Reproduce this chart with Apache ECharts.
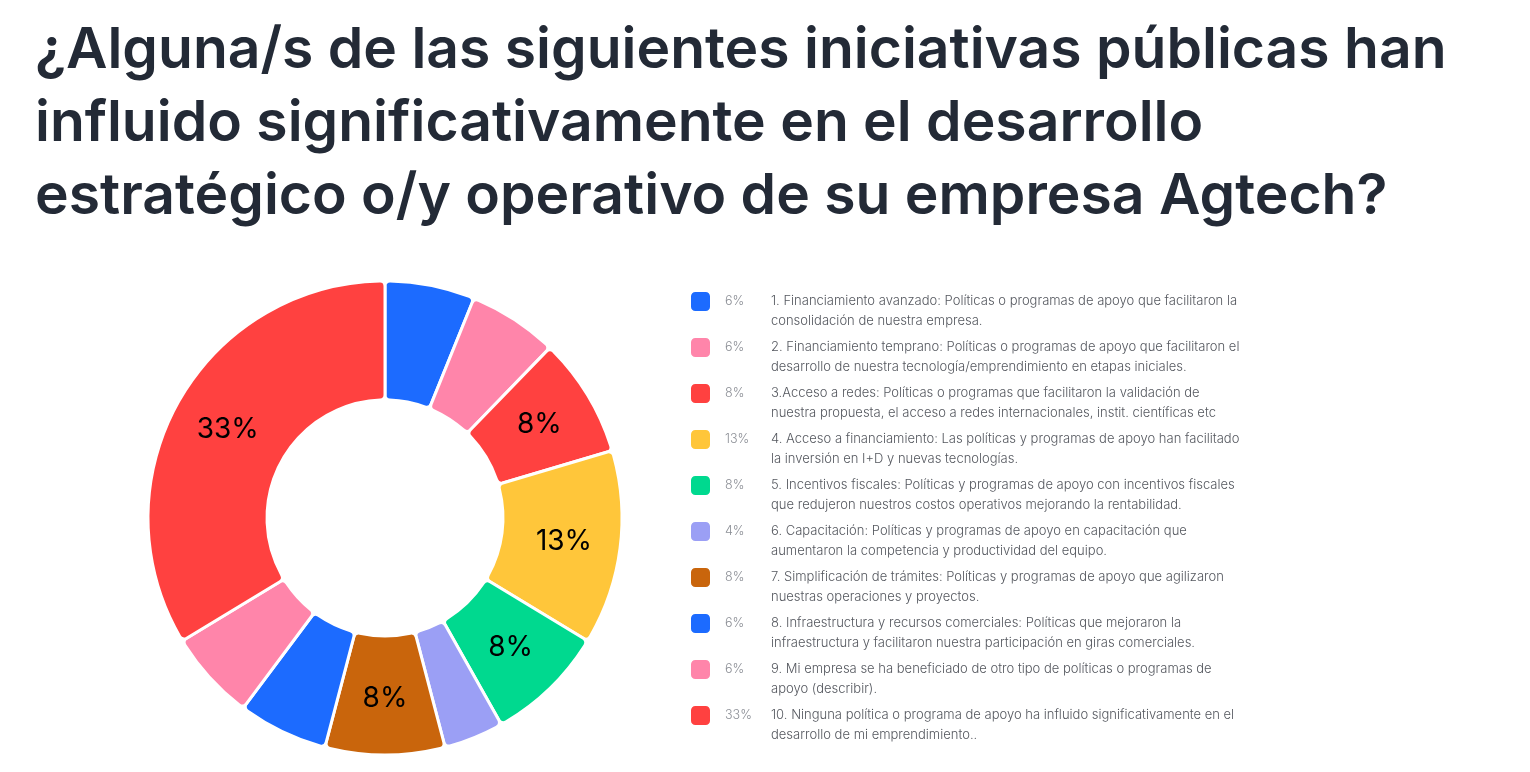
<!DOCTYPE html>
<html>
<head>
<meta charset="utf-8">
<script src="https://cdn.jsdelivr.net/npm/echarts@6/dist/echarts.min.js"></script>
<style>
html,body{margin:0;padding:0;background:#fff;}
#chart{width:1530px;height:772px;}
</style>
</head>
<body>
<div id="chart"></div>
<script>
const titleLines = [
  "¿Alguna/s de las siguientes iniciativas públicas han",
  "influido significativamente en el desarrollo",
  "estratégico o/y operativo de su empresa Agtech?"
];
const categories = [
  "1. Financiamiento avanzado: Políticas o programas de apoyo que facilitaron la\nconsolidación de nuestra empresa.",
  "2. Financiamiento temprano: Políticas o programas de apoyo que facilitaron el\ndesarrollo de nuestra tecnología/emprendimiento en etapas iniciales.",
  "3.Acceso a redes: Políticas o programas que facilitaron la validación de\nnuestra propuesta, el acceso a redes internacionales, instit. científicas etc",
  "4. Acceso a financiamiento: Las políticas y programas de apoyo han facilitado\nla inversión en I+D y nuevas tecnologías.",
  "5. Incentivos fiscales: Políticas y programas de apoyo con incentivos fiscales\nque redujeron nuestros costos operativos mejorando la rentabilidad.",
  "6. Capacitación: Políticas y programas de apoyo en capacitación que\naumentaron la competencia y productividad del equipo.",
  "7. Simplificación de trámites: Políticas y programas de apoyo que agilizaron\nnuestras operaciones y proyectos.",
  "8. Infraestructura y recursos comerciales: Políticas que mejoraron la\ninfraestructura y facilitaron nuestra participación en giras comerciales.",
  "9. Mi empresa se ha beneficiado de otro tipo de políticas o programas de\napoyo (describir).",
  "10. Ninguna política o programa de apoyo ha influido significativamente en el\ndesarrollo de mi emprendimiento.."
];
const percentages = [6, 6, 8, 13, 8, 4, 8, 6, 6, 33];
const colors = ["#1c6bff", "#ff85aa", "#ff4140", "#ffc63a", "#00d98f", "#9b9ff5", "#c9650c", "#1c6bff", "#ff85aa", "#ff4140"];

const chart = echarts.init(document.getElementById('chart'));
const pieData = categories.map((c, i) => ({ name: c, value: percentages[i], itemStyle: { color: colors[i] } }));

chart.setOption({
  backgroundColor: '#ffffff',
  animation: false,
  title: {
    text: titleLines.join('\n'),
    left: 30,
    top: 9,
    textStyle: {
      fontFamily: 'Inter',
      fontWeight: 600,
      fontSize: 57,
      lineHeight: 73,
      color: '#232a36'
    }
  },
  legend: {
    orient: 'vertical',
    left: 684,
    top: 285,
    icon: 'roundRect',
    itemWidth: 21,
    itemHeight: 21,
    itemGap: 8,
    selectedMode: false,
    data: categories,
    formatter: function (name) {
      const i = categories.indexOf(name);
      const parts = name.split('\n');
      return '{p|' + percentages[i] + '%}{t|' + parts[0] + '}\n{p| }{t|' + parts[1] + '}';
    },
    textStyle: {
      padding: [20, 0, 0, 9],
      rich: {
        p: { width: 46, fontFamily: 'Inter', fontWeight: 300, fontSize: 12.5, color: '#8a8d94', lineHeight: 20 },
        t: { fontFamily: 'Inter', fontWeight: 300, fontSize: 13, color: '#55585f', lineHeight: 20 }
      }
    }
  },
  series: [{
    type: 'pie',
    center: [385, 518],
    radius: [118, 237],
    startAngle: 90,
    clockwise: true,
    itemStyle: { borderColor: '#ffffff', borderWidth: 3, borderRadius: 5 },
    label: {
      show: true,
      position: 'inside',
      formatter: function (p) { return p.value >= 8 ? p.value + '%' : ''; },
      fontFamily: 'Inter',
      fontSize: 28,
      fontWeight: 400,
      color: '#000000'
    },
    labelLine: { show: false },
    emphasis: { disabled: true },
    data: pieData
  }]
});
</script>
</body>
</html>
